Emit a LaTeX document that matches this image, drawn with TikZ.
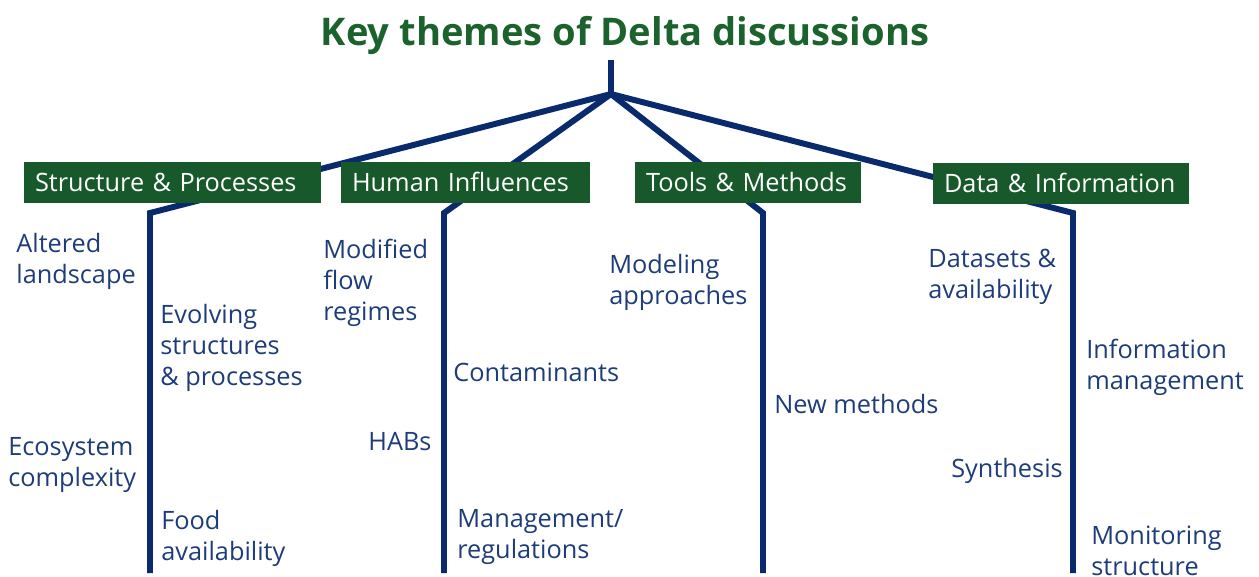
\documentclass[tikz,border=0pt]{standalone}
\usepackage{fontspec}
\setmainfont{Open Sans}
\usepackage{tikz}
\usetikzlibrary{positioning}
\definecolor{deltagreen}{RGB}{23, 89, 43}
\definecolor{titlegreen}{RGB}{28, 98, 44}
\definecolor{deltanavy}{RGB}{10, 42, 110}
\definecolor{textnavy}{RGB}{30, 60, 122}

\begin{document}
\begin{tikzpicture}[
    x=0.02cm, y=-0.02cm,
    theme/.style={
      rectangle,
      fill=deltagreen,
      text=white,
      font=\fontsize{14.4}{17.6}\selectfont,
      text height=0.36cm,
      text depth=0cm,
      minimum height=0.82cm,
      inner xsep=0.22cm,
      align=left
    },
    topic/.style={
      anchor=base west,
      align=left,
      inner sep=0pt,
      text=textnavy,
      font=\fontsize{14.4}{17.6}\selectfont
    },
    branch/.style={line width=3.4pt, draw=deltanavy}
  ]
    \useasboundingbox (0,0) rectangle (1259,576);

    \node[anchor=base, text=titlegreen, font=\fontsize{21.7}{26}\selectfont\bfseries] (title) at (625,45) {Key themes of Delta discussions};

    % tree lines, drawn under the boxes
    \coordinate (trunk) at (611,60);
    \coordinate (apex) at (611,94);
    \foreach \name/\x in {sp/150, hi/444, tm/763, di/1073} {
      \coordinate (\name top) at (\x,213);
      \coordinate (\name bot) at (\x,573);
      \draw[branch] (trunk) -- (apex) -- (\name top) -- (\name bot);
    }

    \node[theme, text width=5.5cm] (structure) at (172.5,182.5) {Structure \& Processes};
    \node[theme, text width=4.54cm] (human) at (465.5,182.5) {Human Influences};
    \node[theme, text width=4.08cm] (tools) at (748,182.5) {Tools \& Methods};
    \node[theme, text width=4.68cm] (data) at (1061,183.5) {Data \& Information};

    % topics, placed at the baseline of their last line
    \node[topic] (altered) at (16,283) {Altered\\landscape};
    \node[topic] (evolving) at (160,385) {Evolving\\structures\\\& processes};
    \node[topic] (ecosystem) at (8,486) {Ecosystem\\complexity};
    \node[topic] (food) at (161,560) {Food\\availability};

    \node[topic] (flow) at (323,320) {Modified\\flow\\regimes};
    \node[topic] (contaminants) at (453,381) {Contaminants};
    \node[topic] (habs) at (368,450) {HABs};
    \node[topic] (management) at (457,558) {Management/\\regulations};

    \node[topic] (modeling) at (609,304) {Modeling\\approaches};
    \node[topic] (newmethods) at (774,413) {New methods};

    \node[topic] (datasets) at (928,298) {Datasets \&\\availability};
    \node[topic] (information) at (1086,389) {Information\\management};
    \node[topic] (synthesis) at (951,477) {Synthesis};
    \node[topic] (monitoring) at (1091,575) {Monitoring\\structure};
  \end{tikzpicture}
\end{document}
